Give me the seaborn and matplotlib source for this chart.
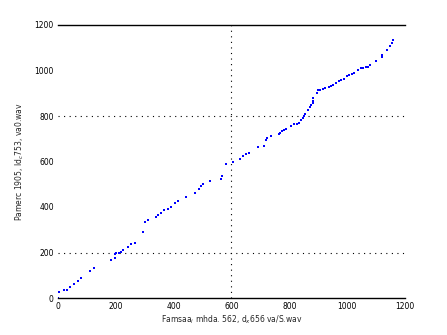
import matplotlib
matplotlib.use("Agg")
import matplotlib.pyplot as plt
import seaborn as sns
import pandas as pd

x_vals = [0, 5, 22, 30, 40, 54, 69, 80, 109, 126, 184, 196, 196, 201, 210, 219, 224, 242, 253, 265,
          294, 302, 311, 338, 346, 355, 365, 380, 392, 406, 415, 441, 475, 486, 493, 501, 527,
          563, 568, 580, 605, 628, 640, 651, 661, 692, 712, 721, 724, 735, 764, 769, 775, 782, 787,
          807, 816, 825, 834, 842, 846, 850, 853, 865, 871, 874, 882, 882, 882, 894, 900, 905,
          916, 924, 937, 944, 951, 963, 972, 980, 989, 1001, 1006, 1018, 1023, 1038, 1047, 1055,
          1064, 1073, 1079, 1099, 1119, 1122, 1138, 1147, 1155, 1159]
y_vals = [2, 25, 35, 35, 47, 62, 76, 88, 120, 132, 165, 175, 195, 199, 200, 201, 213, 223, 238, 242,
          292, 334, 344, 357, 366, 373, 385, 393, 400, 419, 426, 444, 463, 481, 492, 499, 515,
          525, 535, 591, 598, 613, 623, 632, 638, 664, 670, 694, 705, 711, 723, 726, 734, 739, 744,
          757, 766, 767, 769, 783, 792, 802, 809, 826, 838, 847, 855, 866, 877, 900, 914, 914,
          917, 921, 926, 930, 935, 944, 953, 957, 964, 976, 980, 985, 991, 1003, 1010, 1012,
          1014, 1015, 1025, 1041, 1060, 1066, 1090, 1108, 1123, 1134]
x_ticks = [0, 200, 400, 600, 800, 1000, 1200]
y_ticks = [0, 200, 400, 600, 800, 1000, 1200]
x_label = "Famsaa$_{i}$ mhda. 562, d$_{x}$656 va/S.wav"
y_label = "Pamerc 1905, Id$_{c}$753, va0.wav"

df = pd.DataFrame({"x": x_vals, "y": y_vals})

sns.set_style("white")
plt.rcParams['font.family'] = ['DejaVu Sans']

fig = plt.figure(figsize=(4.47, 3.35), dpi=100)
ax = fig.add_axes([58 / 447, 37 / 335, (405 - 58) / 447, (298 - 25) / 335])

sns.scatterplot(data=df, x="x", y="y", ax=ax, color=(0, 0, 1), s=1.2, marker="s",
                linewidth=0, legend=False)

ax.set_xlim(0, 1200)
ax.set_ylim(0, 1200)
ax.set_xticks(x_ticks)
ax.set_yticks(y_ticks)
ax.tick_params(labelsize=5.5, length=0, pad=3, colors="black")

ax.axhline(200, color="black", linestyle=(0, (1, 4)), linewidth=0.8, zorder=0)
ax.axhline(800, color="black", linestyle=(0, (1, 4)), linewidth=0.8, zorder=0)
ax.axvline(600, color="black", linestyle=(0, (1, 4)), linewidth=0.8, zorder=0)

for side in ["left", "right"]:
    ax.spines[side].set_visible(False)
for side in ["top", "bottom"]:
    ax.spines[side].set_visible(True)
    ax.spines[side].set_color("black")
    ax.spines[side].set_linewidth(1.0)

ax.set_xlabel(x_label, fontsize=5.5, labelpad=2)
ax.set_ylabel(y_label, fontsize=5.5, labelpad=6)

fig.savefig("out.png", dpi=100)
